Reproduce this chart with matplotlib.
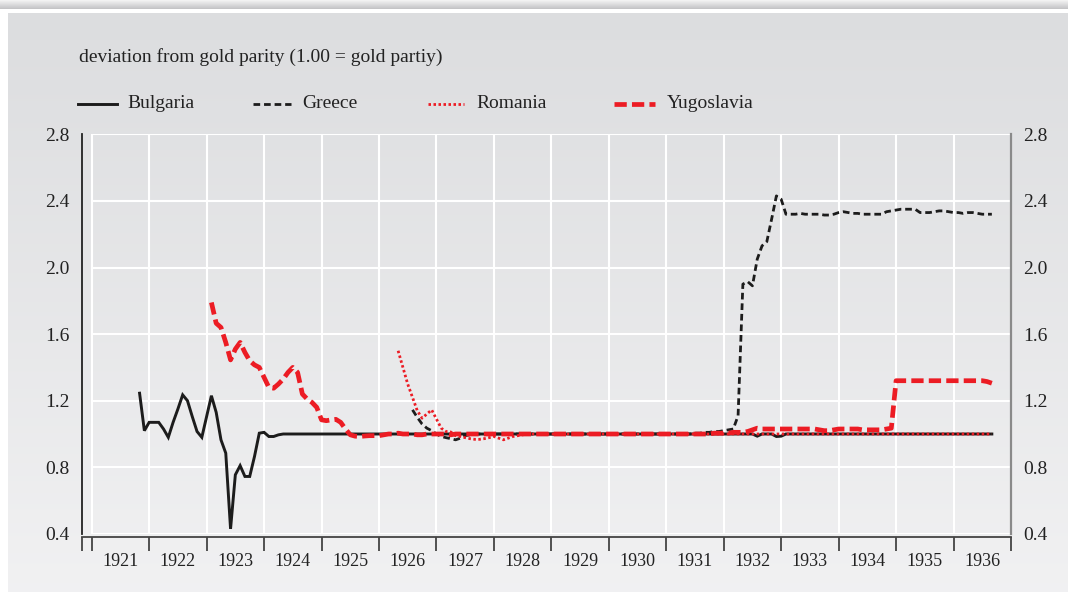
import numpy as np
import matplotlib
matplotlib.use("Agg")
import matplotlib.pyplot as plt
from matplotlib.lines import Line2D

plt.rcParams['font.family'] = ['Liberation Serif', 'DejaVu Serif']

# ---------------- data (monthly, month index 0 = Jan 1921) ----------------
bulgaria_start = 10  # Nov 1921
bulgaria = [
    1.245, 1.02,
    1.07, 1.07, 1.07, 1.03, 0.98, 1.07, 1.15, 1.235, 1.20, 1.105, 1.015, 0.98,
    1.105, 1.23, 1.13, 0.965, 0.885, 0.43, 0.755, 0.81, 0.745, 0.745, 0.865, 1.005,
    1.01, 0.985, 0.985, 0.995, 1.0, 1.0, 1.0, 1.0, 1.0, 1.0, 1.0, 1.0,
    1.0, 1.0, 1.0, 1.0, 1.0, 1.0, 1.0, 1.0, 1.0, 1.0, 1.0, 1.0,
    1.0, 1.0, 1.0, 1.0, 1.0, 1.0, 1.0, 1.0, 1.0, 1.0, 1.0, 1.0,
    1.0, 1.0, 1.0, 1.0, 1.0, 1.0, 1.0, 1.0, 1.0, 1.0, 1.0, 1.0,
    1.0, 1.0, 1.0, 1.0, 1.0, 1.0, 1.0, 1.0, 1.0, 1.0, 1.0, 1.0,
    1.0, 1.0, 1.0, 1.0, 1.0, 1.0, 1.0, 1.0, 1.0, 1.0, 1.0, 1.0,
    1.0, 1.0, 1.0, 1.0, 1.0, 1.0, 1.0, 1.0, 1.0, 1.0, 1.0, 1.0,
    1.0, 1.0, 1.0, 1.0, 1.0, 1.0, 1.0, 1.0, 1.0, 1.0, 1.0, 1.0,
    1.0, 1.0, 1.0, 1.0, 1.0, 1.0, 1.0, 0.987, 1.0, 1.0, 1.0, 0.985,
    0.987, 1.0, 1.0, 1.0, 1.0, 1.0, 1.0, 1.0, 1.0, 1.0, 1.0, 1.0,
    1.0, 1.0, 1.0, 1.0, 1.0, 1.0, 1.0, 1.0, 1.0, 1.0, 1.0, 1.0,
    1.0, 1.0, 1.0, 1.0, 1.0, 1.0, 1.0, 1.0, 1.0, 1.0, 1.0, 1.0,
    1.0, 1.0, 1.0, 1.0, 1.0, 1.0, 1.0, 1.0, 1.0,
]

greece_start = 67  # Aug 1926
greece = [
    1.145, 1.10, 1.06, 1.035, 1.02,
    1.0, 0.985, 0.978, 0.972, 0.965, 0.975, 0.99, 0.995, 1.0, 1.0, 1.0, 1.0,
    1.0, 1.0, 1.0, 1.0, 1.0, 1.0, 1.0, 1.0, 1.0, 1.0, 1.0, 1.0,
    1.0, 1.0, 1.0, 1.0, 1.0, 1.0, 1.0, 1.0, 1.0, 1.0, 1.0, 1.0,
    1.0, 1.0, 1.0, 1.0, 1.0, 1.0, 1.0, 1.0, 1.0, 1.0, 1.0, 1.0,
    1.0, 1.0, 1.0, 1.0, 1.0, 1.0, 1.005, 1.005, 1.01, 1.01, 1.015, 1.015,
    1.02, 1.025, 1.03, 1.11, 1.90, 1.915, 1.89, 2.05, 2.13, 2.155, 2.29, 2.43,
    2.41, 2.32, 2.32, 2.32, 2.325, 2.32, 2.32, 2.32, 2.32, 2.315, 2.315, 2.32,
    2.33, 2.335, 2.33, 2.325, 2.325, 2.32, 2.32, 2.32, 2.32, 2.32, 2.335, 2.34,
    2.345, 2.35, 2.35, 2.35, 2.35, 2.33, 2.33, 2.33, 2.335, 2.34, 2.34, 2.335,
    2.33, 2.33, 2.325, 2.33, 2.33, 2.325, 2.32, 2.32, 2.32,
]

romania_start = 64  # May 1926
romania = [
    1.50, 1.40, 1.30, 1.22, 1.14, 1.095, 1.12, 1.145,
    1.09, 1.035, 1.015, 1.012, 0.99, 0.985, 0.978, 0.972, 0.968, 0.968, 0.972, 0.978,
    0.985, 0.975, 0.965, 0.975, 0.985, 0.99, 0.995, 1.0, 1.0, 1.0, 1.0, 1.0,
    1.0, 1.0, 1.0, 1.0, 1.0, 1.0, 1.0, 1.0, 1.0, 1.0, 1.0, 1.0,
    1.0, 1.0, 1.0, 1.0, 1.0, 1.0, 1.0, 1.0, 1.0, 1.0, 1.0, 1.0,
    1.0, 1.0, 1.0, 1.0, 1.0, 1.0, 1.0, 1.0, 1.0, 1.0, 1.0, 1.0,
    1.0, 1.0, 1.0, 1.0, 1.0, 1.0, 1.0, 1.0, 1.0, 1.0, 1.0, 1.0,
    1.0, 1.0, 1.0, 1.0, 1.0, 1.0, 1.0, 1.0, 1.0, 1.0, 1.0, 1.0,
    1.0, 1.0, 1.0, 1.0, 1.0, 1.0, 1.0, 1.0, 1.0, 1.0, 1.0, 1.0,
    1.0, 1.0, 1.0, 1.0, 1.0, 1.0, 1.0, 1.0, 1.0, 1.0, 1.0, 1.0,
    1.0, 1.0, 1.0, 1.0, 1.0, 1.0, 1.0, 1.0, 1.0,
]

yugoslavia_start = 25  # Feb 1923
yugoslavia = [
    1.79, 1.665, 1.64, 1.55, 1.445, 1.51, 1.55, 1.49, 1.44, 1.415, 1.40,
    1.34, 1.28, 1.275, 1.30, 1.33, 1.37, 1.40, 1.37, 1.24, 1.21, 1.19, 1.16,
    1.085, 1.08, 1.085, 1.088, 1.07, 1.03, 0.995, 0.987, 0.985, 0.988, 0.99, 0.99,
    0.99, 0.995, 1.0, 1.0, 1.005, 1.0, 1.0, 1.0, 0.995, 0.995, 1.0, 1.0,
    1.0, 1.0, 1.0, 0.995, 1.0, 1.0, 1.0, 1.0, 1.0, 1.0, 1.0, 1.0,
    1.0, 1.0, 1.0, 1.0, 1.0, 1.0, 1.0, 1.0, 1.0, 1.0, 1.0, 1.0,
    1.0, 1.0, 1.0, 1.0, 1.0, 1.0, 1.0, 1.0, 1.0, 1.0, 1.0, 1.0,
    1.0, 1.0, 1.0, 1.0, 1.0, 1.0, 1.0, 1.0, 1.0, 1.0, 1.0, 1.0,
    1.0, 1.0, 1.0, 1.0, 1.0, 1.0, 1.0, 1.0, 1.0, 1.0, 1.005, 1.005,
    1.005, 1.005, 1.01, 1.01, 1.01, 1.015, 1.025, 1.035, 1.03, 1.03, 1.03, 1.03,
    1.03, 1.03, 1.03, 1.03, 1.03, 1.03, 1.03, 1.03, 1.025, 1.02, 1.02, 1.025,
    1.03, 1.03, 1.03, 1.03, 1.03, 1.025, 1.025, 1.025, 1.025, 1.025, 1.03, 1.035,
    1.32, 1.32, 1.32, 1.32, 1.32, 1.32, 1.32, 1.32, 1.32, 1.32, 1.32, 1.32,
    1.32, 1.32, 1.32, 1.32, 1.32, 1.32, 1.32, 1.315, 1.305,
]

years = list(range(1921, 1937))
y_ticks = [0.4, 0.8, 1.2, 1.6, 2.0, 2.4, 2.8]
y_labels = ["0.4", "0.8", "1.2", "1.6", "2.0", "2.4", "2.8"]
series_names = ["Bulgaria", "Greece", "Romania", "Yugoslavia"]
title_text = "deviation from gold parity (1.00 = gold partiy)"


def to_x(start, vals):
    return 1921 + (start + np.arange(len(vals))) / 12.0


# ---------------- styling ----------------
RED = "#ec1c24"
BLK = "#1c1c1c"
TXT = "#222222"
W, H = 1068, 592
fig = plt.figure(figsize=(W / 100, H / 100), dpi=100)
fig.patch.set_facecolor("white")

# background panel gradient
bg = fig.add_axes([8 / W, 0, 1 - 8 / W, (H - 13) / H], zorder=-5)
grad = np.linspace(0, 1, 256).reshape(-1, 1)
c_top = np.array([0.863, 0.867, 0.875])
c_bot = np.array([0.945, 0.945, 0.950])
img = c_top[None, None, :] * (1 - grad[:, :, None]) + c_bot[None, None, :] * grad[:, :, None]
bg.imshow(img, aspect="auto", extent=[0, 1, 0, 1], origin="upper")
bg.set_axis_off()

# top shadow strip
sh = fig.add_axes([0, (H - 9) / H, 1, 9 / H], zorder=-5)
g2 = np.linspace(0, 1, 64).reshape(-1, 1)
s_top = np.array([0.96, 0.96, 0.96])
s_bot = np.array([0.76, 0.76, 0.77])
img2 = s_top[None, None, :] * (1 - g2[:, :, None]) + s_bot[None, None, :] * g2[:, :, None]
sh.imshow(img2, aspect="auto", extent=[0, 1, 0, 1], origin="upper")
sh.set_axis_off()

# main axes
x_left_px, x_right_px = 82.3, 1011.0
y_bot_px, y_top_px = 533.9, 134.3
ax = fig.add_axes([x_left_px / W, (H - y_bot_px) / H,
                   (x_right_px - x_left_px) / W, (y_bot_px - y_top_px) / H])
ax.set_facecolor("none")
px_per_year = 57.45
x0 = 1921 - (91.7 - x_left_px) / px_per_year
ax.set_xlim(x0, 1937.0)
ax.set_ylim(0.4, 2.8)

# grid
ax.vlines(years + [1937], 0.4, 2.8, color="white", lw=1.5, zorder=1)
ax.hlines(y_ticks, 1921, 1937, color="white", lw=1.5, zorder=1)

# series
GR_STYLE = dict(color=BLK, lw=2.0, linestyle=(0, (2.4, 1.4)))
RO_STYLE = dict(color=RED, lw=2.0, linestyle=(0, (0.9, 0.9)))
YU_STYLE = dict(color=RED, lw=3.4, linestyle=(0, (2.6, 1.1)))
BU_STYLE = dict(color=BLK, lw=2.1, linestyle="-")

ax.plot(to_x(bulgaria_start, bulgaria), bulgaria, solid_joinstyle="miter", zorder=3, **BU_STYLE)
ax.plot(to_x(greece_start, greece), greece, zorder=3, **GR_STYLE)
ax.plot(to_x(yugoslavia_start, yugoslavia), yugoslavia, zorder=4, **YU_STYLE)
ax.plot(to_x(romania_start, romania), romania, zorder=5, **RO_STYLE)

# spines
ax.spines["top"].set_visible(False)
ax.spines["left"].set_color("#222222")
ax.spines["left"].set_linewidth(1.3)
ax.spines["right"].set_color("#8a8a8a")
ax.spines["right"].set_linewidth(1.6)
ax.spines["bottom"].set_position(("outward", 2))
ax.spines["bottom"].set_color("#444444")
ax.spines["bottom"].set_linewidth(1.3)

# x ticks
ax.set_xticks([x0] + years + [1937])
ax.set_xticklabels([])
ax.set_xticks([y + 0.5 for y in years], minor=True)
ax.set_xticklabels([str(y) for y in years], minor=True)
ax.tick_params(axis="x", which="major", length=10, width=1.3, color="#444444", direction="out")
ax.tick_params(axis="x", which="minor", length=0, pad=12, labelsize=13, labelcolor=TXT)

# y ticks
ax.set_yticks(y_ticks)
ax.set_yticklabels(y_labels)
ax.tick_params(axis="y", which="both", length=0, labelsize=14, labelcolor=TXT,
               labelleft=True, labelright=True, pad=9)

# title
fig.text(79 / W, 1 - 57 / H, title_text, fontsize=14, color=TXT, va="center", ha="left")

# legend (manual)
leg_y = 1 - 104 / H
leg_items = [
    (78, 117, 127, BU_STYLE),
    (253, 291, 302, GR_STYLE),
    (428, 464, 476, RO_STYLE),
    (614, 655, 667, YU_STYLE),
]
for name, (xa, xb, xt, st) in zip(series_names, leg_items):
    fig.add_artist(Line2D([xa / W, xb / W], [leg_y, leg_y], transform=fig.transFigure, **st))
    fig.text(xt / W, leg_y, name, fontsize=14, color=TXT, va="center", ha="left")

fig.savefig("out.png", dpi=100)
